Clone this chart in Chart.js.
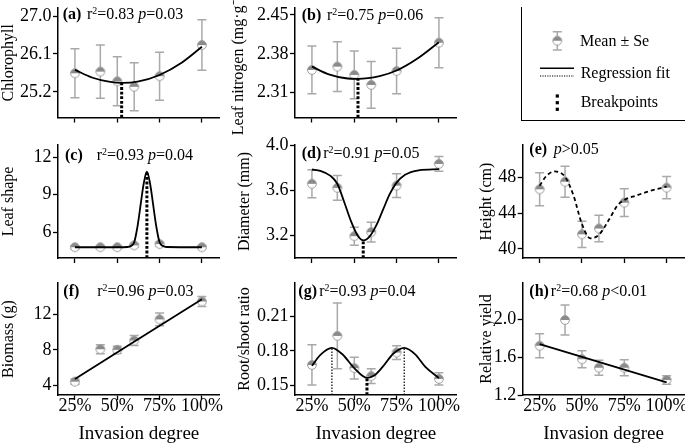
<!DOCTYPE html>
<html lang="en">
<head>
<meta charset="UTF-8">
<title>Invasion degree responses</title>
<script src="https://cdn.jsdelivr.net/npm/chart.js"></script>
<style>
  html, body { margin: 0; padding: 0; background: #fff; overflow: hidden; }
  #wrap { position: relative; width: 685px; height: 447px; overflow: hidden;
          font-family: "Liberation Serif", "Times New Roman", serif; color: #000; }
  #wrap canvas.panel { position: absolute; left: -15px; top: -15px; }
  .note, .leg { position: absolute; font-size: 16px; line-height: 16px; white-space: nowrap; }
  .note sup { font-size: 0.62em; position: relative; top: -0.5em; vertical-align: baseline; line-height: 0; }
  #legendBox { position: absolute; left: 521px; top: 7px; width: 170px; height: 113.5px;
               border-left: 1.5px solid #000; border-bottom: 1.5px solid #000; box-sizing: border-box; }
  #legendIcons { position: absolute; left: 0; top: 0; }
</style>
</head>
<body>
<div id="wrap">
  <div id="legendBox"></div>
  <canvas id="legendIcons" width="685" height="447"></canvas>
</div>

<script>
// invasion degree (%), shared by all panels
const degree = [25, 40, 50, 60, 75, 100];
const degreeTicks = [25, 50, 75, 100];
const degreeLabels = ['25%', '50%', '75%', '100%'];

// (a) chlorophyll
const chlMean = [25.64, 25.68, 25.45, 25.32, 25.57, 26.31];
const chlSe = [0.58, 0.63, 0.58, 0.57, 0.57, 0.60];
const chlFitX = [25, 35, 45, 53, 62, 75, 88, 100];
const chlFitY = [25.72, 25.54, 25.44, 25.41, 25.44, 25.60, 25.89, 26.27];
const chlBreakX = [52.6];
const chlBreakY = [25.41];
const chlTicks = [25.2, 26.1, 27.0];

// (b) leaf nitrogen
const lnMean = [2.351, 2.357, 2.342, 2.324, 2.349, 2.400];
const lnSe = [0.043, 0.045, 0.043, 0.042, 0.041, 0.045];
const lnFitX = [25, 35, 45, 52, 65, 75, 88, 100];
const lnFitY = [2.357, 2.343, 2.336, 2.335, 2.340, 2.350, 2.373, 2.401];
const lnBreakX = [52.2];
const lnBreakY = [2.335];
const lnTicks = [2.31, 2.38, 2.45];

// (c) leaf shape
const lsMean = [4.8, 4.8, 4.8, 4.95, 5.05, 4.8];
const lsSe = [0.12, 0.1, 0.1, 0.15, 0.15, 0.1];
const lsFitX = [25, 50, 56, 58, 60, 62, 64, 65.5, 67.5, 69.5, 71, 73, 75, 77, 79, 100];
const lsFitY = [4.8, 4.8, 4.82, 4.9, 5.2, 6.5, 8.4, 9.8, 10.85, 9.8, 8.4, 6.5, 5.2, 4.9, 4.82, 4.8];
const lsBreakX = [67.5];
const lsBreakY = [10.85];
const lsTicks = [6, 9, 12];

// (d) diameter
const diaMean = [3.66, 3.624, 3.194, 3.23, 3.644, 3.837];
const diaSe = [0.125, 0.11, 0.08, 0.088, 0.106, 0.065];
const diaFitX = [25, 30, 36, 40, 44, 48, 52, 55.5, 59, 63, 67, 71, 75, 80, 88, 100];
const diaFitY = [3.787, 3.775, 3.73, 3.66, 3.50, 3.33, 3.20, 3.156, 3.19, 3.29, 3.43, 3.57, 3.67, 3.74, 3.78, 3.79];
const diaBreakX = [55.3];
const diaBreakY = [3.156];
const diaTicks = [3.2, 3.6, 4.0];

// (e) height
const hMean = [46.7, 47.55, 41.65, 42.3, 45.2, 46.88];
const hSe = [1.85, 1.74, 1.47, 1.5, 1.55, 1.25];
const hFitX = [25, 29, 34, 40, 45, 50, 55, 60, 66, 71, 75, 82, 90, 100];
const hFitY = [47.1, 48.2, 48.7, 48.1, 46.0, 42.8, 41.2, 41.6, 43.3, 44.9, 45.5, 46.0, 46.5, 47.0];
const hTicks = [40, 44, 48];

// (f) biomass
const bioMean = [4.45, 8.07, 8.0, 9.04, 11.4, 13.4];
const bioSe = [0.3, 0.5, 0.4, 0.55, 0.7, 0.55];
const bioFitX = [25, 100];
const bioFitY = [4.75, 13.65];
const bioTicks = [4, 8, 12];

// (g) root/shoot ratio
const rsMean = [0.1677, 0.193, 0.165, 0.158, 0.1785, 0.1556];
const rsSe = [0.0175, 0.0285, 0.0094, 0.0064, 0.006, 0.0053];
const rsFitX = [25, 30, 36.8, 43, 50, 57.5, 62, 67, 73, 79.5, 86, 92, 100];
const rsFitY = [0.1670, 0.1765, 0.1826, 0.1770, 0.1650, 0.1565, 0.1588, 0.1665, 0.1775, 0.1826, 0.1770, 0.1660, 0.1563];
const rsBreakX = [36.8, 57.5, 79.5];
const rsBreakY = [0.1826, 0.1565, 0.1826];
const rsBreakThin = [true, false, true];
const rsTicks = [0.15, 0.18, 0.21];

// (h) relative yield
const ryMean = [1.723, 1.997, 1.58, 1.49, 1.49, 1.36];
const rySe = [0.128, 0.16, 0.09, 0.08, 0.085, 0.045];
const ryFitX = [25, 100];
const ryFitY = [1.74, 1.335];
const ryTicks = [1.2, 1.6, 2.0];

// panel notes
const tags = ['(a)', '(b)', '(c)', '(d)', '(e)', '(f)', '(g)', '(h)'];
const r2Text = ['0.83', '0.75', '0.93', '0.91', '', '0.96', '0.93', '0.68'];
const pText = ['=0.03', '=0.06', '=0.04', '=0.05', '>0.05', '=0.03', '=0.04', '<0.01'];

// layout (page pixels)
const OFF = 15, CW = 715, CH = 477;
const colLeft = [0, 229, 476];
const colAxis = [58, 295, 522.7];
const plotW = 161.7;
const rowTop = [8, 145, 283];
const rowBottom = [117.5, 258, 395];
const noteX = [62.7, 301.7, 65, 301.7, 529.3, 63.3, 298.3, 529.3];
const noteBase = [19, 20, 160, 158.3, 154, 296.7, 296.7, 296.7];
const noteGap = [5.6, 5.7, 14, 2, 6.7, 18, 2.3, 2];

const panels = [
  { col: 0, row: 0, mean: chlMean, se: chlSe, fitX: chlFitX, fitY: chlFitY, bx: chlBreakX, by: chlBreakY,
    ticks: chlTicks, dec: 1, min: 24.59, max: 27.19, title: 'Chlorophyll', tpad: 0.5 },
  { col: 1, row: 0, mean: lnMean, se: lnSe, fitX: lnFitX, fitY: lnFitY, bx: lnBreakX, by: lnBreakY,
    ticks: lnTicks, dec: 2, min: 2.2653, max: 2.4626, title: 'Leaf nitrogen (mg·g⁻¹)', tpad: 1.3 },
  { col: 0, row: 1, mean: lsMean, se: lsSe, fitX: lsFitX, fitY: lsFitY, bx: lsBreakX, by: lsBreakY,
    ticks: lsTicks, dec: 0, min: 3.94, max: 12.98, title: 'Leaf shape', tpad: 0.5 },
  { col: 1, row: 1, mean: diaMean, se: diaSe, fitX: diaFitX, fitY: diaFitY, bx: diaBreakX, by: diaBreakY,
    ticks: diaTicks, dec: 1, min: 3.0, max: 4.005, title: 'Diameter (mm)', tpad: 8 },
  { col: 2, row: 1, mean: hMean, se: hSe, fitX: hFitX, fitY: hFitY, bx: [], by: [], dashed: true,
    ticks: hTicks, dec: 0, min: 38.99, max: 51.67, title: 'Height (cm)', tpad: 3 },
  { col: 0, row: 2, mean: bioMean, se: bioSe, fitX: bioFitX, fitY: bioFitY, bx: [], by: [],
    ticks: bioTicks, dec: 0, min: 2.96, max: 15.46, title: 'Biomass (g)', tpad: 0.5 },
  { col: 1, row: 2, mean: rsMean, se: rsSe, fitX: rsFitX, fitY: rsFitY, bx: rsBreakX, by: rsBreakY, thin: rsBreakThin,
    ticks: rsTicks, dec: 2, min: 0.1416, max: 0.239, title: 'Root/shoot ratio', tpad: 8 },
  { col: 2, row: 2, mean: ryMean, se: rySe, fitX: ryFitX, fitY: ryFitY, bx: [], by: [],
    ticks: ryTicks, dec: 1, min: 1.2, max: 2.39, title: 'Relative yield', tpad: 3 }
];

Chart.defaults.font.family = '"Liberation Serif", "Times New Roman", serif';
Chart.defaults.color = '#000';

// half-filled circle used for the means
function makeMarker() {
  const c = document.createElement('canvas');
  c.width = 12; c.height = 12;
  const g = c.getContext('2d');
  g.beginPath(); g.arc(6, 6, 4.4, 0, 2 * Math.PI); g.fillStyle = '#fff'; g.fill();
  g.beginPath(); g.arc(6, 6, 4.4, Math.PI, 2 * Math.PI); g.closePath(); g.fillStyle = '#8a8a8a'; g.fill();
  g.beginPath(); g.arc(6, 6, 4.4, 0, 2 * Math.PI); g.strokeStyle = '#9b9b9b'; g.lineWidth = 1; g.stroke();
  return c;
}
const marker = makeMarker();

// mean ± se bars
const errorBars = {
  id: 'errorBars',
  beforeDatasetsDraw(chart) {
    const { ctx, scales: { x, y } } = chart;
    ctx.save();
    ctx.strokeStyle = '#a9a9a9';
    ctx.lineWidth = 1.5;
    chart.data.datasets.forEach(ds => {
      if (!ds.errors) return;
      ds.data.forEach((pt, i) => {
        const px = x.getPixelForValue(pt.x);
        const hi = y.getPixelForValue(pt.y + ds.errors[i]);
        const lo = y.getPixelForValue(pt.y - ds.errors[i]);
        ctx.beginPath();
        ctx.moveTo(px, hi); ctx.lineTo(px, lo);
        ctx.moveTo(px - 4.5, hi); ctx.lineTo(px + 4.5, hi);
        ctx.moveTo(px - 4.5, lo); ctx.lineTo(px + 4.5, lo);
        ctx.stroke();
      });
    });
    ctx.restore();
  }
};

const wrap = document.getElementById('wrap');

function buildPanel(p) {
  const canvas = document.createElement('canvas');
  canvas.className = 'panel';
  canvas.width = CW; canvas.height = CH;
  wrap.insertBefore(canvas, document.getElementById('legendBox'));

  const bottomRow = p.row === 2;
  const xH = bottomRow ? 60 : 10;
  const yW = colAxis[p.col] - colLeft[p.col];

  const datasets = [];
  p.bx.forEach((bx, i) => {
    const thin = p.thin && p.thin[i];
    datasets.push({
      type: 'line',
      data: [{ x: bx, y: p.min }, { x: bx, y: p.by[i] }],
      borderColor: '#000',
      borderWidth: thin ? 1.2 : 3,
      borderDash: thin ? [1.5, 1.5] : [2.8, 1.8],
      borderCapStyle: 'butt',
      pointRadius: 0,
      order: 0
    });
  });
  datasets.push({
    type: 'line',
    data: p.fitX.map((x, i) => ({ x, y: p.fitY[i] })),
    borderColor: '#000',
    borderWidth: 1.8,
    borderDash: p.dashed ? [4, 3] : [],
    cubicInterpolationMode: 'monotone',
    pointRadius: 0,
    fill: false,
    order: 1
  });
  datasets.push({
    type: 'scatter',
    data: degree.map((x, i) => ({ x, y: p.mean[i] })),
    errors: p.se,
    pointStyle: marker,
    pointRadius: 5,
    order: 2
  });

  const axisGrid = { display: true, drawOnChartArea: false, drawTicks: true, tickLength: 5, tickColor: '#000', tickWidth: 1.3 };
  const axisBorder = { display: true, color: '#000', width: 1.5 };

  new Chart(canvas, {
    data: { datasets },
    plugins: [errorBars],
    options: {
      responsive: false,
      animation: false,
      devicePixelRatio: 1,
      layout: {
        padding: {
          left: colLeft[p.col] + OFF,
          top: rowTop[p.row] + OFF,
          right: CW - (colAxis[p.col] + plotW + OFF),
          bottom: CH - (rowBottom[p.row] + OFF) - xH
        }
      },
      plugins: { legend: { display: false }, tooltip: { enabled: false } },
      scales: {
        x: {
          type: 'linear', min: 15, max: 110.5,
          afterBuildTicks: s => { s.ticks = degreeTicks.map(v => ({ value: v })); },
          afterFit: s => { s.height = xH; },
          grid: axisGrid, border: axisBorder,
          ticks: { display: bottomRow, autoSkip: false, maxRotation: 0, padding: 0,
                   font: { size: 18, lineHeight: 0.67 }, callback: (v, i) => degreeLabels[i] },
          title: { display: bottomRow, text: 'Invasion degree', font: { size: 19, lineHeight: 1 },
                   padding: { top: 0, bottom: 11 } }
        },
        y: {
          type: 'linear', min: p.min, max: p.max,
          afterBuildTicks: s => { s.ticks = p.ticks.map(v => ({ value: v })); },
          afterFit: s => { s.width = yW; },
          grid: axisGrid, border: axisBorder,
          ticks: { autoSkip: false, padding: 1.5, font: { size: 18, lineHeight: 1 },
                   callback: v => v.toFixed(p.dec) },
          title: { display: true, text: p.title, font: { size: 16, lineHeight: 1 },
                   padding: { top: p.tpad, bottom: 0 } }
        }
      }
    }
  });
}

panels.forEach(buildPanel);

// panel notes as html text
tags.forEach((tag, i) => {
  const d = document.createElement('div');
  d.className = 'note';
  d.style.left = noteX[i] + 'px';
  d.style.top = (noteBase[i] - 13.4) + 'px';
  const stat = r2Text[i] ? 'r<sup>2</sup>=' + r2Text[i] + ' ' : '';
  d.innerHTML = '<b>' + tag + '</b><span style="margin-left:' + noteGap[i] + 'px">' + stat +
                '<i>p</i>' + pText[i].replace('<', '&lt;').replace('>', '&gt;') + '</span>';
  wrap.appendChild(d);
});

// legend
const legendText = ['Mean ± Se', 'Regression fit', 'Breakpoints'];
const legendX = [580, 580.7, 580.7];
const legendBase = [46, 78.3, 107.3];
legendText.forEach((t, i) => {
  const d = document.createElement('div');
  d.className = 'leg';
  d.style.left = legendX[i] + 'px';
  d.style.top = (legendBase[i] - 13.4) + 'px';
  d.textContent = t;
  wrap.appendChild(d);
});

(function drawLegendIcons() {
  const g = document.getElementById('legendIcons').getContext('2d');
  const cx = 557.3;
  g.strokeStyle = '#a9a9a9'; g.lineWidth = 1.5;
  g.beginPath();
  g.moveTo(cx, 31.7); g.lineTo(cx, 50);
  g.moveTo(cx - 4.5, 31.7); g.lineTo(cx + 4.5, 31.7);
  g.moveTo(cx - 4.5, 50); g.lineTo(cx + 4.5, 50);
  g.stroke();
  g.drawImage(marker, cx - 6, 40.7 - 6);

  g.strokeStyle = '#000';
  g.lineWidth = 1.6;
  g.beginPath(); g.moveTo(540, 68.3); g.lineTo(574, 68.3); g.stroke();
  g.lineWidth = 1.2;
  g.setLineDash([1.2, 1.2]);
  g.beginPath(); g.moveTo(540, 76); g.lineTo(574, 76); g.stroke();
  g.setLineDash([]);

  g.fillStyle = '#000';
  [96, 102.7, 109.3].forEach(y => g.fillRect(cx - 1.6, y - 1.6, 3.2, 3.2));
})();
</script>
</body>
</html>
